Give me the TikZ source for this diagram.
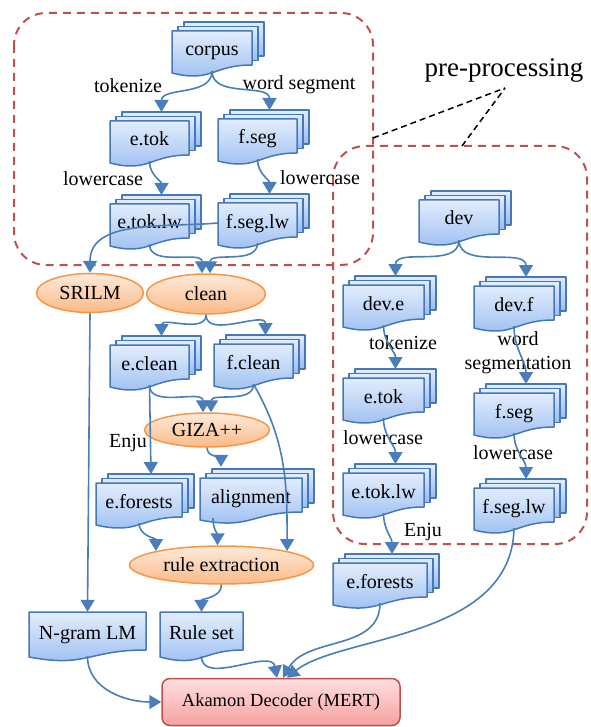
\documentclass[tikz,border=0pt]{standalone}
\usepackage{fontspec}
\setmainfont{Liberation Serif}
\usetikzlibrary{arrows.meta,shapes.geometric}

\definecolor{docline}{RGB}{70,120,185}
\definecolor{doctop}{RGB}{226,237,253}
\definecolor{docbot}{RGB}{152,188,240}
\definecolor{ovline}{RGB}{247,150,70}
\definecolor{ovtop}{RGB}{254,234,218}
\definecolor{ovbot}{RGB}{250,186,136}
\definecolor{decline}{RGB}{192,80,77}
\definecolor{dectop}{RGB}{255,224,224}
\definecolor{decbot}{RGB}{246,160,160}
\definecolor{linkc}{RGB}{74,126,187}

% stack of three sheets: name, left, top, width, text
\newcommand{\docstack}[5]{%
  \foreach \k in {2,1}
    \draw[sheet] (#2+6*\k,-#3+4.5*\k) rectangle (#2+#4+6*\k,-#3-34+4.5*\k);
  \draw[sheet] (#2,-#3) -- (#2+#4,-#3) -- (#2+#4,-#3-34)
    .. controls (#2+#4/2,-#3-34) and (#2+#4/2,-#3-52) .. (#2,-#3-42) -- cycle;
  \node[doc, minimum width=#4] (#1) at (#2+#4/2,-#3-20) {#5};
  \coordinate (#1-top) at (#2+#4/2+12,-#3+9);
}
% one sheet: name, left, top, width, text
\newcommand{\docone}[5]{%
  \draw[sheet] (#2,-#3) -- (#2+#4,-#3) -- (#2+#4,-#3-38)
    .. controls (#2+#4/2,-#3-38) and (#2+#4/2,-#3-56) .. (#2,-#3-45) -- cycle;
  \node[doc, minimum width=#4, minimum height=44pt] (#1) at (#2+#4/2,-#3-22) {#5};
}

\begin{document}
\begin{tikzpicture}[x=1pt, y=1pt, font=\fontsize{20}{24}\selectfont,
    sheet/.style={draw=docline, line width=1.5pt, line join=round,
      top color=doctop, bottom color=docbot},
    doc/.style={minimum height=40pt, text height=14pt, text depth=4pt},
    proc/.style={ellipse, draw=ovline, line width=1.5pt,
      top color=ovtop, bottom color=ovbot},
    link/.style={draw=linkc, line width=1.6pt,
      -{Triangle[length=12pt,width=14pt]}},
    group/.style={draw=decline, line width=2pt,
      dash pattern=on 8pt off 6pt, rounded corners=32pt},
    hint/.style={draw=black, line width=1.5pt, dash pattern=on 6pt off 4pt}]
    \tikzstyle{every node}+=[inner sep=0pt]
    \useasboundingbox (0,0) rectangle (590,-727);

    % dashed groups
    \draw[group] (14,-13) rectangle (373,-265);
    \draw[group] (333,-146) rectangle (587,-544);

    \node (pre) at (504,-70) {\fontsize{27}{30}\selectfont pre-processing};
    \coordinate (pretip) at (505,-88);
    \coordinate (topcorner) at (373,-138);
    \coordinate (devcorner) at (462,-146);
    \draw[hint] (topcorner) -- (pretip);
    \draw[hint] (devcorner) -- (pretip);

    % training data
    \docstack{corpus}{172}{31}{80}{corpus}
    \docstack{etok}{110}{121}{79}{e.tok}
    \docstack{fseg}{218}{119}{79}{f.seg}
    \docstack{etoklw}{110}{204}{79}{e.tok.lw}
    \docstack{fseglw}{218}{203}{79}{f.seg.lw}
    \docstack{eclean}{110}{345}{79}{e.clean}
    \docstack{fclean}{214}{344}{79}{f.clean}
    \docstack{eforests}{96}{483}{86}{e.forests}
    \docstack{align}{200}{478}{102}{alignment}

    % dev data
    \docstack{dev}{419}{200}{80}{dev}
    \docstack{deve}{343}{285}{81}{dev.e}
    \docstack{devf}{474}{286}{80}{dev.f}
    \docstack{etokd}{343}{378}{81}{e.tok}
    \docstack{fsegd}{474}{393}{80}{f.seg}
    \docstack{etoklwd}{343}{473}{81}{e.tok.lw}
    \docstack{fseglwd}{474}{488}{80}{f.seg.lw}
    \docstack{eforestsd}{333}{563}{94}{e.forests}

    \docone{ngram}{29}{612}{117}{N-gram LM}
    \docone{ruleset}{160}{612}{83}{Rule set}

    \node[proc, minimum width=107pt, minimum height=39pt] (srilm) at (90,-293) {SRILM};
    \node[proc, minimum width=119pt, minimum height=40pt] (clean) at (206,-294) {clean};
    \node[proc, minimum width=125pt, minimum height=34pt] (giza) at (207,-430) {GIZA++};
    \node[proc, minimum width=184pt, minimum height=38pt] (ruleext) at (221.5,-565) {rule extraction};

    \node[draw=decline, line width=1.5pt, rounded corners=8pt, top color=dectop,
      bottom color=decbot, minimum width=238pt, minimum height=47pt,
      font=\fontsize{18.5}{22}\selectfont] (akamon) at (281,-702) {Akamon Decoder (MERT)};

    % step labels
    \node (tok1) at (128,-86) {tokenize};
    \node (seg1) at (299,-85) {word segment};
    \node (low1) at (103,-179) {lowercase};
    \node (low2) at (320,-178) {lowercase};
    \node (enju1) at (128,-443) {Enju};
    \node (tok2) at (403,-343) {tokenize};
    \node[align=center] (seg2) at (518,-353) {word\\segmentation};
    \node (low3) at (383,-438) {lowercase};
    \node (low4) at (513,-453) {lowercase};
    \node (enju2) at (423,-532) {Enju};

    \draw[link] (corpus.south) to[out=-90,in=90] (etok-top);
    \draw[link] (corpus.south) to[out=-90,in=90] (fseg-top);
    \draw[link] (etok.south) to[out=-90,in=90] (etoklw-top);
    \draw[link] (fseg.south) to[out=-90,in=90] (fseglw-top);
    \draw[link] (fseglw.west) to[out=185,in=90] (srilm.north);
    \draw[link] (etoklw.south) to[out=-90,in=90] ([xshift=-4pt]clean.north);
    \draw[link] (fseglw.south) to[out=-90,in=90] ([xshift=4pt]clean.north);
    \draw[link] (clean.south) to[out=-90,in=90] (eclean-top);
    \draw[link] (clean.south) to[out=-90,in=90] (fclean-top);
    \draw[link] (eclean.south) to[out=-90,in=90] ([xshift=-4pt]giza.north);
    \draw[link] (fclean.south) to[out=-90,in=90] ([xshift=4pt]giza.north);
    \draw[link] (eclean.south) -- (eforests-top);
    \draw[link] (giza.south) to[out=-90,in=90] ([shift={(-30pt,11pt)}]align.north);
    \draw[link] (fclean.south) to[out=-60,in=90] (ruleext.north east);
    \draw[link] (eforests.south) to[out=-90,in=90] (ruleext.north west);
    \draw[link] ([xshift=-38pt]align.south) to[out=-90,in=90] ([xshift=-4pt]ruleext.north);
    \draw[link] (ruleext.south) to[out=-90,in=90] (ruleset.north);
    \draw[link] (srilm.south) -- (ngram.north);
    \draw[link] (ngram.south) to[out=-90,in=180] (akamon.west);
    \draw[link] (ruleset.south) to[out=-90,in=100] ([xshift=-4pt]akamon.north);

    \draw[link] (dev.south) to[out=-90,in=90] (deve-top);
    \draw[link] (dev.south) to[out=-90,in=90] (devf-top);
    \draw[link] (deve.south) to[out=-90,in=90] (etokd-top);
    \draw[link] (devf.south) to[out=-90,in=90] (fsegd-top);
    \draw[link] (etokd.south) to[out=-90,in=90] (etoklwd-top);
    \draw[link] (fsegd.south) to[out=-90,in=90] (fseglwd-top);
    \draw[link] (etoklwd.south) to[out=-90,in=90] (eforestsd-top);
    \draw[link] (eforestsd.south) to[out=-90,in=60] ([xshift=2pt]akamon.north);
    \draw[link] (fseglwd.south) .. controls (512,-640) and (340,-635) .. ([xshift=6pt]akamon.north);
\end{tikzpicture}
\end{document}
